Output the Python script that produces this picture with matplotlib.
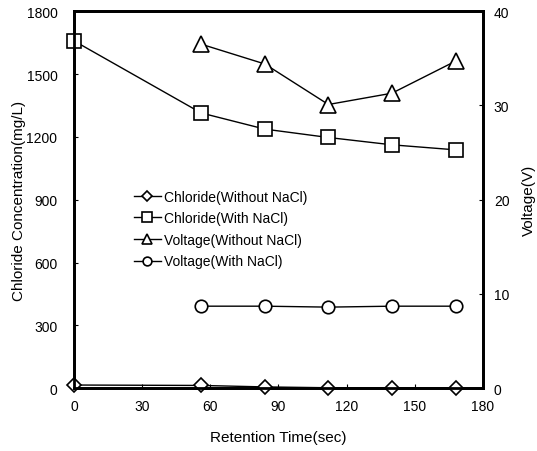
import matplotlib.pyplot as plt

plt.rcParams['font.family'] = ['Liberation Sans', 'DejaVu Sans']

# retention time (sec)
time_all = [0, 56, 84, 112, 140, 168]
time_v = [56, 84, 112, 140, 168]

# chloride concentration (mg/L)
cl_without = [15, 13, 6, 2, 1, 1]
cl_with = [1658, 1314, 1237, 1197, 1162, 1138]

# voltage (V)
v_without = [36.5, 34.4, 30.1, 31.3, 34.7]
v_with = [8.7, 8.7, 8.6, 8.7, 8.7]

fig = plt.figure(figsize=(5.37, 4.52), dpi=100)
ax = fig.add_axes([0.138, 0.139, 0.761, 0.834])
ax2 = ax.twinx()

mk = dict(color='black', lw=1, markerfacecolor='white', markeredgecolor='black',
          markeredgewidth=1.2, clip_on=False, zorder=5)

l1, = ax.plot(time_all, cl_without, marker='D', markersize=7, **mk)
l2, = ax.plot(time_all, cl_with, marker='s', markersize=10, **mk)
l3, = ax2.plot(time_v, v_without, marker='^', markersize=11, **mk)
l4, = ax2.plot(time_v, v_with, marker='o', markersize=9, **mk)

ax.set_xlim(0, 180)
ax.set_ylim(0, 1800)
ax2.set_ylim(0, 40)
ax.set_xticks(range(0, 181, 30))
ax.set_yticks(range(0, 1801, 300))
ax2.set_yticks(range(0, 41, 10))

for a in (ax, ax2):
    for s in a.spines.values():
        s.set_linewidth(2)
    a.tick_params(direction='in', length=3, labelsize=10, pad=12)
ax.tick_params(axis='x', pad=8)
ax2.tick_params(axis='y', pad=8)

ax.set_xlabel('Retention Time(sec)', fontsize=11, labelpad=12)
ax.set_ylabel('Chloride Concentration(mg/L)', fontsize=11, labelpad=0)
ax2.set_ylabel('Voltage(V)', fontsize=11, labelpad=9)

ax2.legend([l1, l2, l3, l4],
           ['Chloride(Without NaCl)', 'Chloride(With NaCl)',
            'Voltage(Without NaCl)', 'Voltage(With NaCl)'],
           loc='upper left', bbox_to_anchor=(0.115, 0.56), frameon=False,
           fontsize=10, handlelength=2.0, labelspacing=0.55, handletextpad=0.2,
           markerscale=0.7)

fig.savefig('out.png', dpi=100)
